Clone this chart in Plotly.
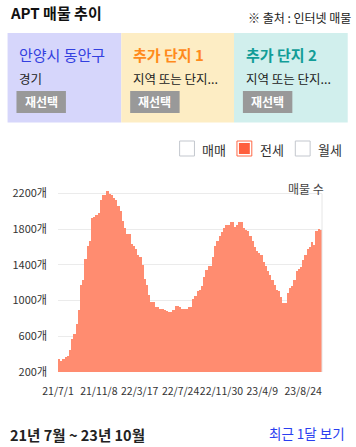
import datetime as dt
import plotly.graph_objects as go

# ---------------- data ----------------
start_date = "2021-07-01"
listing_counts = [
    345, 324, 343, 365, 383, 447, 567, 631, 736, 897,
    1178, 1234, 1470, 1616, 1672, 1927, 1942, 1957, 1980, 2133,
    2189, 2189, 2227, 2200, 2182, 2152, 2126, 2059, 2002, 1890,
    1815, 1747, 1747, 1635, 1616, 1582, 1515, 1485, 1403, 1245,
    1178, 1065, 990, 983, 927, 927, 905, 908, 897, 886,
    878, 878, 897, 942, 942, 934, 908, 908, 908, 927,
    927, 1020, 1047, 1103, 1122, 1159, 1260, 1346, 1384, 1384,
    1485, 1616, 1665, 1721, 1766, 1815, 1845, 1852, 1882, 1878,
    1822, 1845, 1882, 1882, 1815, 1796, 1777, 1721, 1665, 1605,
    1560, 1533, 1507, 1433, 1384, 1335, 1290, 1234, 1178, 1122,
    1103, 1039, 971, 971, 1084, 1140, 1159, 1234, 1335, 1354,
    1372, 1459, 1515, 1578, 1600, 1654, 1627, 1777, 1804, 1796,
]
tick_labels = ["21/7/1", "21/11/8", "22/3/17", "22/7/24", "22/11/30", "23/4/9", "23/8/24"]
y_ticks = [200, 600, 1000, 1400, 1800, 2200]

region_titles = ["안양시 동안구", "추가 단지 1", "추가 단지 2"]
region_subtitles = ["경기", "지역 또는 단지...", "지역 또는 단지..."]
legend_items = ["매매", "전세", "월세"]
legend_checked = [False, True, False]

# ---------------- build ----------------
d0 = dt.date.fromisoformat(start_date)
dates = [d0 + dt.timedelta(days=7 * i) for i in range(len(listing_counts))]
end_date = dates[-1] + dt.timedelta(days=7)
tick_dates = [d0 + dt.timedelta(days=130 * k) for k in range(len(tick_labels))]
y_tick_text = [f"{v}개" for v in y_ticks]

W, H = 356, 447
ML, MR, MT, MB = 55, 34, 190, 75
PW, PH = W - ML - MR, H - MT - MB


def px(x):
    return (x - ML) / PW


def py(y):
    return (H - MB - y) / PH


FONT = "Noto Sans CJK KR, Noto Sans, sans-serif"

fig = go.Figure()
fig.add_trace(go.Bar(
    x=dates, y=listing_counts,
    width=7 * 86400000, offset=0,
    marker=dict(color="#ff8c70", line=dict(width=0)),
    hoverinfo="skip",
))

shapes = []
annotations = []

# right border of plot
shapes.append(dict(type="line", xref="paper", yref="y", x0=1, x1=1, y0=200, y1=2200,
                   line=dict(color="#e6e6e6", width=1)))

# header
annotations.append(dict(text="<b>APT 매물 추이</b>", xref="paper", yref="paper",
                        x=px(4), y=py(13), xanchor="left", yanchor="middle",
                        showarrow=False, font=dict(size=15, color="#111", family=FONT)))
annotations.append(dict(text="※ 출처 : 인터넷 매물", xref="paper", yref="paper",
                        x=px(353), y=py(17), xanchor="right", yanchor="middle",
                        showarrow=False, font=dict(size=12, color="#222", family=FONT)))

box_x = [(4, 119), (119, 233), (233, 348)]
box_fill = ["#d6d6fb", "#fdedc4", "#d1efed"]
title_col = ["#3340e0", "#ff8a1c", "#129d98"]
for i in range(3):
    x0, x1 = box_x[i]
    shapes.append(dict(type="rect", xref="paper", yref="paper",
                       x0=px(x0), x1=px(x1), y0=py(122.5), y1=py(33),
                       fillcolor=box_fill[i], line=dict(width=0), layer="below"))
    annotations.append(dict(text=region_titles[i] if i == 0 else f"<b>{region_titles[i]}</b>",
                            xref="paper", yref="paper",
                            x=px(x0 + 10), y=py(54), xanchor="left", yanchor="middle",
                            showarrow=False, font=dict(size=15, color=title_col[i], family=FONT)))
    annotations.append(dict(text=region_subtitles[i], xref="paper", yref="paper",
                            x=px(x0 + 10), y=py(79), xanchor="left", yanchor="middle",
                            showarrow=False, font=dict(size=12.5, color="#222", family=FONT)))
    bx0 = x0 + 9
    shapes.append(dict(type="rect", xref="paper", yref="paper",
                       x0=px(bx0), x1=px(bx0 + 50), y0=py(113), y1=py(91),
                       fillcolor="#999999", line=dict(width=0)))
    annotations.append(dict(text="<b>재선택</b>", xref="paper", yref="paper",
                            x=px(bx0 + 25), y=py(102), xanchor="center", yanchor="middle",
                            showarrow=False, font=dict(size=12, color="#ffffff", family=FONT)))

# legend checkboxes
leg_x = [178, 236, 295]
for i in range(3):
    x0 = leg_x[i]
    if legend_checked[i]:
        shapes.append(dict(type="rect", xref="paper", yref="paper",
                           x0=px(x0), x1=px(x0 + 15), y0=py(156), y1=py(141),
                           fillcolor="#ffffff", line=dict(color="#ff6a48", width=1)))
        shapes.append(dict(type="rect", xref="paper", yref="paper",
                           x0=px(x0 + 2), x1=px(x0 + 13), y0=py(154), y1=py(143),
                           fillcolor="#ff5f3d", line=dict(width=0)))
    else:
        shapes.append(dict(type="rect", xref="paper", yref="paper",
                           x0=px(x0), x1=px(x0 + 15), y0=py(156), y1=py(141),
                           fillcolor="#ffffff", line=dict(color="#c3c7ce", width=1)))
    annotations.append(dict(text=legend_items[i], xref="paper", yref="paper",
                            x=px(x0 + 21), y=py(149), xanchor="left", yanchor="middle",
                            showarrow=False, font=dict(size=13, color="#333", family=FONT)))

# axis title
annotations.append(dict(text="매물 수", xref="paper", yref="paper",
                        x=px(326), y=py(188), xanchor="right", yanchor="middle",
                        showarrow=False, font=dict(size=12, color="#444", family=FONT)))

# footer
annotations.append(dict(text="<b>21년 7월 ~ 23년 10월</b>", xref="paper", yref="paper",
                        x=px(4), y=py(434), xanchor="left", yanchor="middle",
                        showarrow=False, font=dict(size=14.5, color="#222", family=FONT)))
annotations.append(dict(text="최근 1달 보기", xref="paper", yref="paper",
                        x=px(347), y=py(433), xanchor="right", yanchor="middle",
                        showarrow=False, font=dict(size=13.5, color="#2a3ef0", family=FONT)))

fig.update_layout(
    width=W, height=H,
    margin=dict(l=ML, r=MR, t=MT, b=MB, pad=0),
    paper_bgcolor="#ffffff", plot_bgcolor="#ffffff",
    showlegend=False, bargap=0,
    font=dict(family=FONT, size=11, color="#333"),
    shapes=shapes, annotations=annotations,
    xaxis=dict(type="date", range=[dates[0], end_date],
               tickvals=tick_dates, ticktext=tick_labels, tickangle=0,
               ticklabelstandoff=11,
               showgrid=False, zeroline=False, showline=False, ticks="",
               tickfont=dict(size=10.5, color="#333"), fixedrange=True),
    yaxis=dict(range=[200, 2240], tickvals=y_ticks, ticktext=y_tick_text,
               ticklabelstandoff=10,
               showgrid=True, gridcolor="#ebebeb", gridwidth=1,
               zeroline=False, showline=False, ticks="",
               tickfont=dict(size=11, color="#333"), fixedrange=True),
)

fig.write_html("out.html", config={"displayModeBar": False},
               post_script="document.body.style.margin='0';document.body.style.padding='0';")
